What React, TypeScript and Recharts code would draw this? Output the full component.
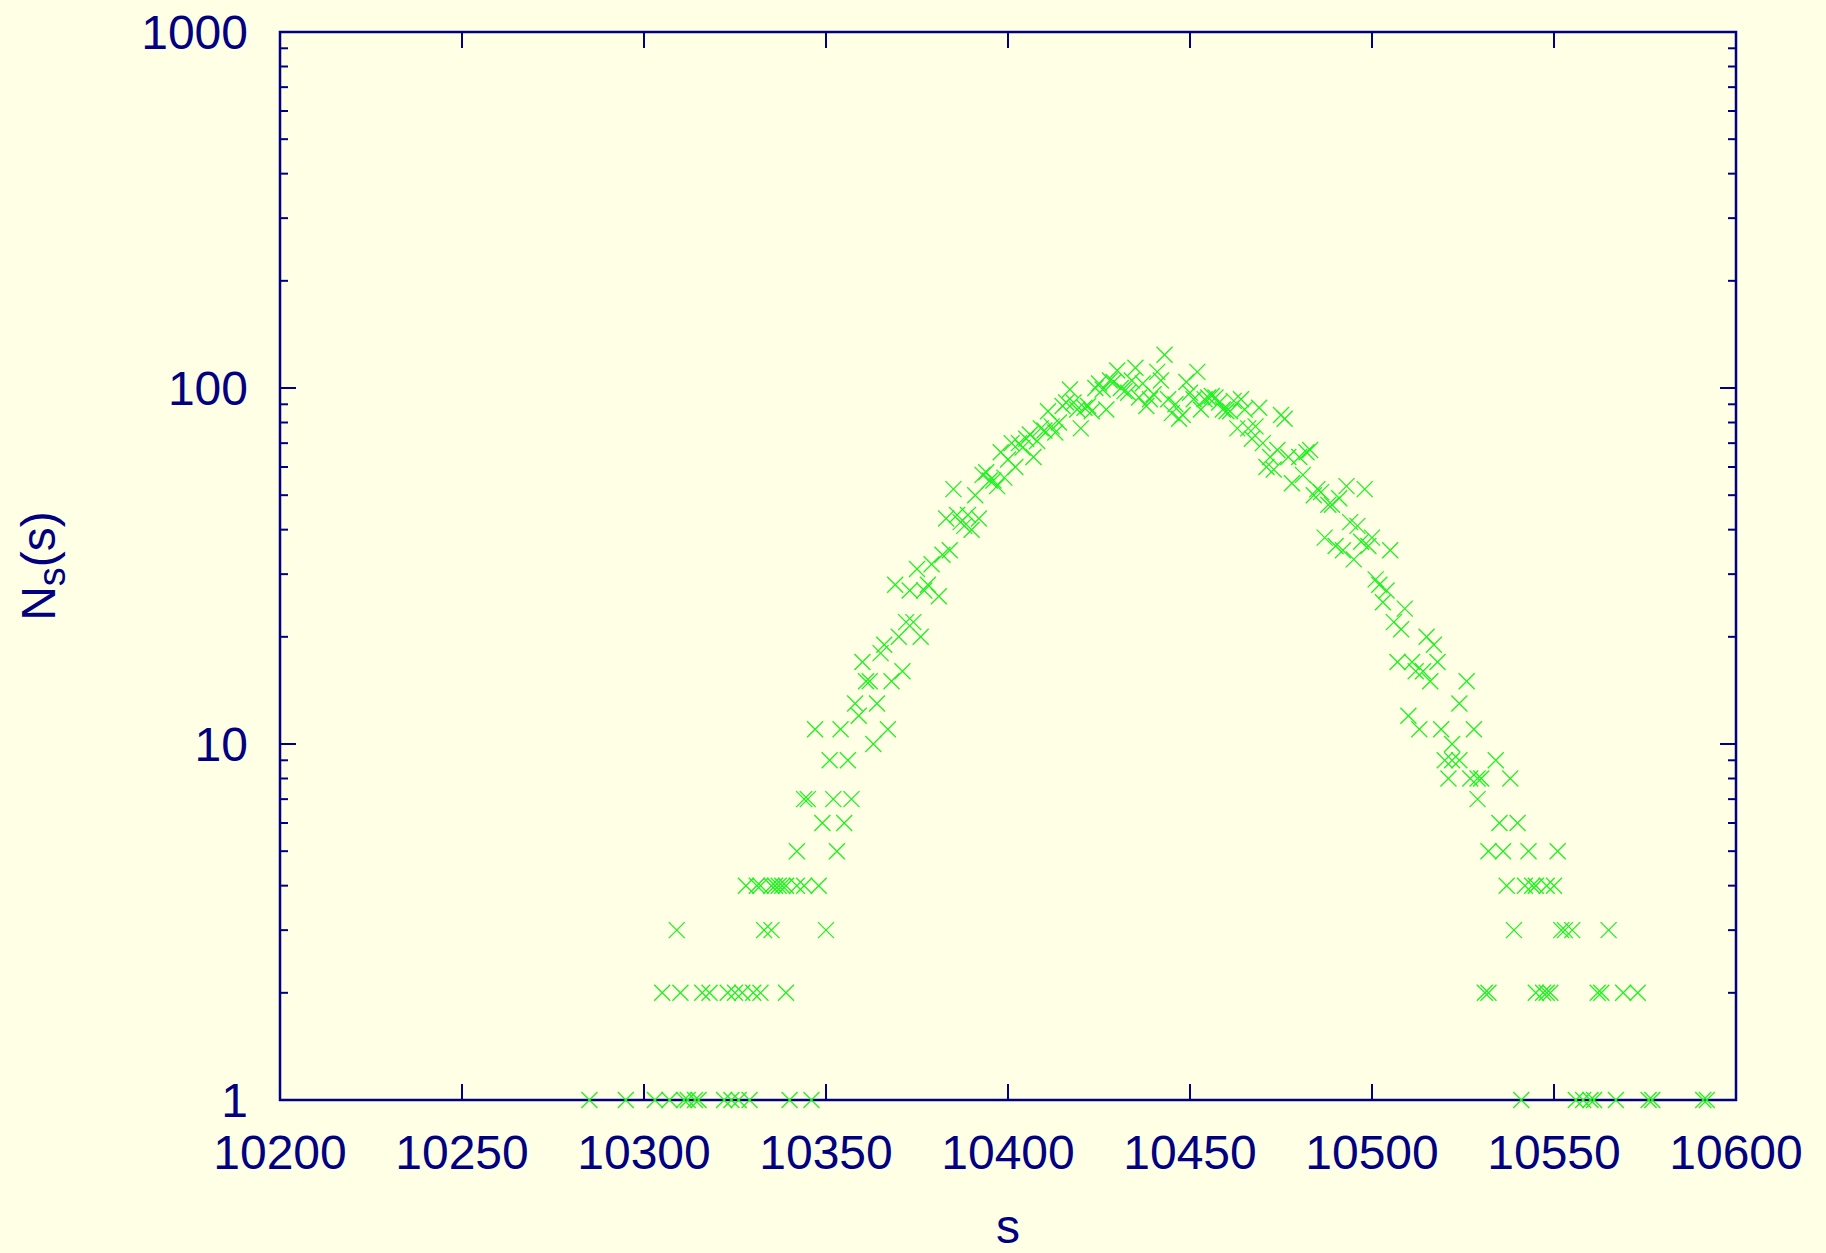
import { ScatterChart, Scatter, XAxis, YAxis, ReferenceArea } from "recharts";

// cluster size s and number of clusters N_s(s) of that size
const clusterSizes = [
  10285, 10295, 10303, 10305, 10307, 10309, 10310, 10311, 10312, 10314,
  10315, 10316, 10318, 10322, 10323, 10324, 10325, 10326, 10327, 10328,
  10329, 10330, 10331, 10332, 10332, 10333, 10335, 10335, 10336, 10337,
  10338, 10339, 10339, 10340, 10342, 10342, 10344, 10344, 10345, 10346,
  10347, 10348, 10349, 10350, 10351, 10352, 10353, 10354, 10355, 10356,
  10357, 10358, 10359, 10360, 10361, 10362, 10363, 10364, 10365, 10366,
  10367, 10368, 10369, 10370, 10371, 10372, 10373, 10374, 10375, 10376,
  10377, 10378, 10379, 10381, 10382, 10383, 10384, 10385, 10386, 10387,
  10388, 10389, 10390, 10391, 10392, 10393, 10394, 10395, 10396, 10397,
  10398, 10399, 10400, 10401, 10402, 10403, 10404, 10405, 10406, 10407,
  10408, 10409, 10410, 10411, 10412, 10413, 10414, 10415, 10416, 10417,
  10418, 10419, 10420, 10421, 10422, 10423, 10424, 10425, 10426, 10427,
  10428, 10429, 10430, 10431, 10432, 10433, 10434, 10435, 10436, 10437,
  10438, 10439, 10440, 10441, 10442, 10443, 10444, 10445, 10446, 10447,
  10448, 10449, 10450, 10451, 10452, 10453, 10454, 10455, 10456, 10457,
  10458, 10459, 10460, 10461, 10462, 10463, 10464, 10465, 10466, 10467,
  10468, 10469, 10470, 10471, 10472, 10473, 10474, 10475, 10476, 10477,
  10478, 10480, 10481, 10482, 10483, 10484, 10485, 10486, 10487, 10488,
  10489, 10490, 10491, 10492, 10493, 10494, 10495, 10496, 10497, 10498,
  10499, 10500, 10501, 10502, 10503, 10504, 10505, 10506, 10507, 10508,
  10509, 10510, 10511, 10512, 10513, 10514, 10515, 10516, 10517, 10518,
  10519, 10520, 10521, 10522, 10522, 10524, 10524, 10526, 10527, 10528,
  10529, 10529, 10530, 10531, 10532, 10532, 10534, 10535, 10536, 10537,
  10538, 10539, 10540, 10541, 10542, 10543, 10544, 10545, 10545, 10547,
  10548, 10548, 10549, 10550, 10551, 10552, 10553, 10555, 10556, 10558,
  10560, 10561, 10562, 10563, 10565, 10567, 10569, 10573, 10576, 10577,
  10591, 10592,
];

const clusterCounts = [
  1, 1, 1, 2, 1, 3, 2, 1, 1, 1,
  1, 2, 2, 1, 2, 1, 2, 1, 2, 4,
  1, 2, 4, 2, 4, 3, 3, 4, 4, 4,
  4, 2, 4, 1, 4, 5, 4, 7, 7, 1,
  11, 4, 6, 3, 9, 7, 5, 11, 6, 9,
  7, 13, 12, 17, 15, 15, 10, 13, 18, 19,
  11, 15, 28, 20, 16, 22, 27, 22, 31, 20,
  27, 28, 32, 26, 34, 43, 35, 52, 44, 42,
  41, 44, 40, 50, 43, 57, 58, 55, 55, 53,
  66, 56, 63, 70, 60, 70, 68, 72, 74, 64,
  71, 77, 76, 86, 78, 75, 80, 89, 91, 99,
  91, 87, 77, 88, 89, 86, 100, 103, 99, 87,
  105, 104, 112, 100, 98, 97, 105, 114, 94, 103,
  89, 93, 96, 111, 105, 124, 93, 85, 90, 82,
  84, 104, 97, 93, 111, 87, 93, 94, 95, 94,
  91, 87, 86, 86, 92, 77, 93, 87, 77, 72,
  78, 88, 70, 60, 64, 59, 67, 84, 82, 64,
  54, 64, 57, 66, 67, 50, 52, 51, 38, 47,
  47, 36, 49, 35, 53, 42, 33, 41, 37, 52,
  36, 38, 29, 28, 25, 27, 35, 22, 17, 21,
  24, 12, 17, 16, 11, 16, 20, 15, 19, 17,
  11, 9, 8, 10, 9, 13, 9, 15, 8, 11,
  8, 7, 8, 2, 2, 5, 9, 6, 5, 4,
  8, 3, 6, 1, 4, 5, 4, 4, 2, 2,
  4, 2, 2, 4, 5, 3, 3, 3, 1, 1,
  1, 1, 2, 2, 3, 1, 2, 2, 1, 1,
  1, 1,
];

const xTicks = [10200, 10250, 10300, 10350, 10400, 10450, 10500, 10550, 10600];
const yTicks = [
  1, 2, 3, 4, 5, 6, 7, 8, 9,
  10, 20, 30, 40, 50, 60, 70, 80, 90,
  100, 200, 300, 400, 500, 600, 700, 800, 900,
  1000,
];
const yLabelled = [1, 10, 100, 1000];

const points = clusterSizes.map((s, i) => ({ s, n: clusterCounts[i] }));

const WIDTH = 1826;
const HEIGHT = 1253;
const LEFT = 280;
const TOP = 32;
const PLOT_W = 1456;
const PLOT_H = 1068;
// axes need a non-zero box or Recharts skips drawing them
const AXIS_BOX = 1;

const NAVY = "#000080";
const GREEN = "#20f020";
const BG = "#ffffe6";
const FONT = "'Liberation Sans', Arial, Helvetica, sans-serif";

const MAJOR = 16;
const MINOR = 8;

function Cross(props: any) {
  const { cx, cy } = props;
  if (cx == null || cy == null) return null;
  return (
    <g stroke={GREEN} strokeWidth={1.3}>
      <line x1={cx - 8} y1={cy - 8} x2={cx + 8} y2={cy + 8} />
      <line x1={cx - 8} y1={cy + 8} x2={cx + 8} y2={cy - 8} />
    </g>
  );
}

// ticks point into the plot and are mirrored on the top edge
function XTick(props: any) {
  const { x, y, payload } = props;
  return (
    <g>
      <line x1={x} y1={y} x2={x} y2={y - MAJOR} stroke={NAVY} strokeWidth={2} />
      <line
        x1={x}
        y1={y - PLOT_H}
        x2={x}
        y2={y - PLOT_H + MAJOR}
        stroke={NAVY}
        strokeWidth={2}
      />
      <text
        x={x}
        y={y + 69}
        textAnchor="middle"
        fill={NAVY}
        fontSize={48}
        fontFamily={FONT}
      >
        {payload.value}
      </text>
    </g>
  );
}

// log ticks: labelled decades, short unlabelled minors, mirrored on the right edge
function YTick(props: any) {
  const { x, y, payload } = props;
  const major = yLabelled.includes(payload.value);
  const len = major ? MAJOR : MINOR;
  return (
    <g>
      <line x1={x} y1={y} x2={x + len} y2={y} stroke={NAVY} strokeWidth={2} />
      <line
        x1={x + PLOT_W}
        y1={y}
        x2={x + PLOT_W - len}
        y2={y}
        stroke={NAVY}
        strokeWidth={2}
      />
      {major && (
        <text
          x={x - 32}
          y={y + 17}
          textAnchor="end"
          fill={NAVY}
          fontSize={48}
          fontFamily={FONT}
        >
          {payload.value}
        </text>
      )}
    </g>
  );
}

const XTitle = () => (
  <text
    x={LEFT + PLOT_W / 2}
    y={1243}
    textAnchor="middle"
    fill={NAVY}
    fontSize={48}
    fontFamily={FONT}
  >
    s
  </text>
);

const YTitle = () => (
  <text
    transform={`translate(55, ${TOP + PLOT_H / 2}) rotate(-90)`}
    textAnchor="middle"
    fill={NAVY}
    fontSize={48}
    fontFamily={FONT}
  >
    N
    <tspan fontSize={38} dy={10}>
      s
    </tspan>
    <tspan dy={-10}>(s)</tspan>
  </text>
);

export default function App() {
  return (
    <div
      style={{
        position: "absolute",
        left: 0,
        top: 0,
        width: WIDTH,
        height: HEIGHT,
        background: BG,
      }}
    >
      <ScatterChart
        width={WIDTH}
        height={HEIGHT}
        margin={{
          top: TOP,
          right: WIDTH - LEFT - PLOT_W,
          bottom: HEIGHT - TOP - PLOT_H - AXIS_BOX,
          left: LEFT - AXIS_BOX,
        }}
      >
        <XAxis
          dataKey="s"
          type="number"
          domain={[10200, 10600]}
          ticks={xTicks}
          interval={0}
          height={AXIS_BOX}
          axisLine={false}
          tickLine={false}
          tickSize={0}
          tickMargin={0}
          tick={(p: any) => <XTick {...p} />}
          label={{ content: () => <XTitle /> }}
        />
        <YAxis
          dataKey="n"
          type="number"
          scale="log"
          domain={[1, 1000]}
          ticks={yTicks}
          interval={0}
          width={AXIS_BOX}
          axisLine={false}
          tickLine={false}
          tickSize={0}
          tickMargin={0}
          tick={(p: any) => <YTick {...p} />}
          label={{ content: () => <YTitle /> }}
        />
        <ReferenceArea
          x1={10200}
          x2={10600}
          y1={1}
          y2={1000}
          fill="none"
          stroke={NAVY}
          strokeWidth={2.5}
        />
        <Scatter
          data={points}
          dataKey="n"
          shape={(p: any) => <Cross {...p} />}
          isAnimationActive={false}
        />
      </ScatterChart>
    </div>
  );
}
